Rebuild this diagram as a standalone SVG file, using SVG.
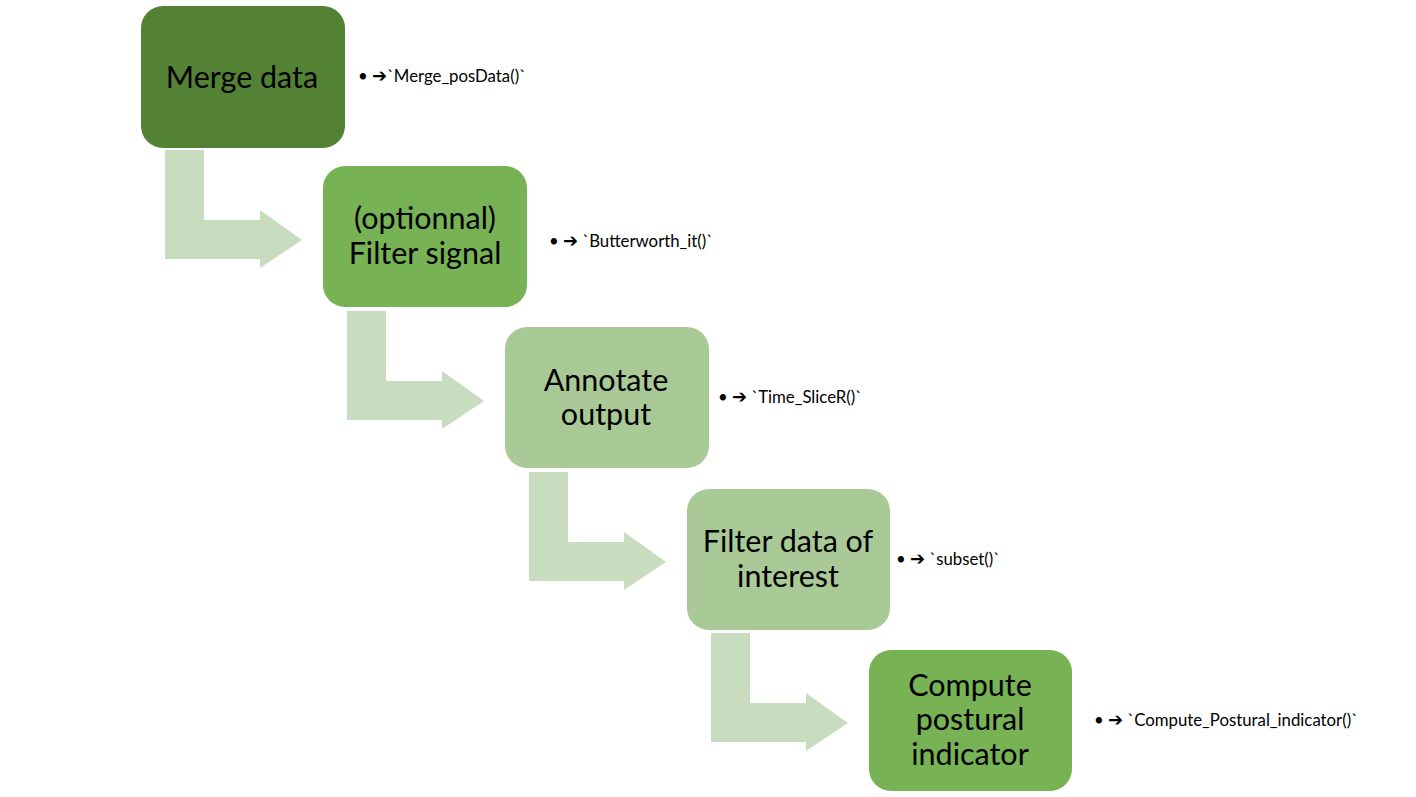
<svg xmlns="http://www.w3.org/2000/svg" width="1416" height="797" viewBox="0 0 1416 797">
<defs>
<style>
.dark{fill:#548235}
.mid{fill:#77b255}
.light{fill:#a9ca97}
.arr{fill:#c8dcc0}
.t{font-family:Lato,"Open Sans",sans-serif;font-size:30.5px;fill:#000;text-anchor:middle}
.s{font-family:Lato,"DejaVu Sans",sans-serif;font-size:16.8px;fill:#000}
.g{font-family:"DejaVu Sans",sans-serif;font-size:18px;font-weight:bold}
</style>
<path id="bend" d="M0,0 L39,0 L39,70 L95,70 L95,60 L137,90 L95,118 L95,109 L0,109 Z"/>
</defs>
<g id="connectors">
<use href="#bend" class="arr" x="165" y="150"/>
<use href="#bend" class="arr" x="347" y="311"/>
<use href="#bend" class="arr" x="529" y="472"/>
<use href="#bend" class="arr" x="711" y="633"/>
</g>
<g id="n1">
<rect x="141" y="6" width="204" height="142" rx="22" class="dark"/>
<text class="t" x="242" y="88">Merge data</text>
</g>
<g id="n2">
<rect x="323" y="166" width="204" height="141" rx="22" class="mid"/>
<text class="t" x="425" y="229">(optionnal)</text>
<text class="t" x="425" y="264">Filter signal</text>
</g>
<g id="n3">
<rect x="505" y="327" width="204" height="141" rx="22" class="light"/>
<text class="t" x="606" y="391">Annotate</text>
<text class="t" x="606" y="425">output</text>
</g>
<g id="n4">
<rect x="687" y="489" width="203" height="141" rx="22" class="light"/>
<text class="t" x="788" y="552">Filter data of</text>
<text class="t" x="788" y="587">interest</text>
</g>
<g id="n5">
<rect x="869" y="650" width="203" height="141" rx="22" class="mid"/>
<text class="t" x="970" y="696">Compute</text>
<text class="t" x="970" y="730">postural</text>
<text class="t" x="970" y="765">indicator</text>
</g>
<g id="labels">
<text class="s" x="358" y="82">• <tspan class="g">➔</tspan>`Merge_posData()`</text>
<text class="s" x="549" y="247">• <tspan class="g">➔</tspan> `Butterworth_it()`</text>
<text class="s" x="718" y="403">• <tspan class="g">➔</tspan> `Time_SliceR()`</text>
<text class="s" x="896" y="565">• <tspan class="g">➔</tspan> `subset()`</text>
<text class="s" x="1094" y="726">• <tspan class="g">➔</tspan> `Compute_Postural_indicator()`</text>
</g>
</svg>
